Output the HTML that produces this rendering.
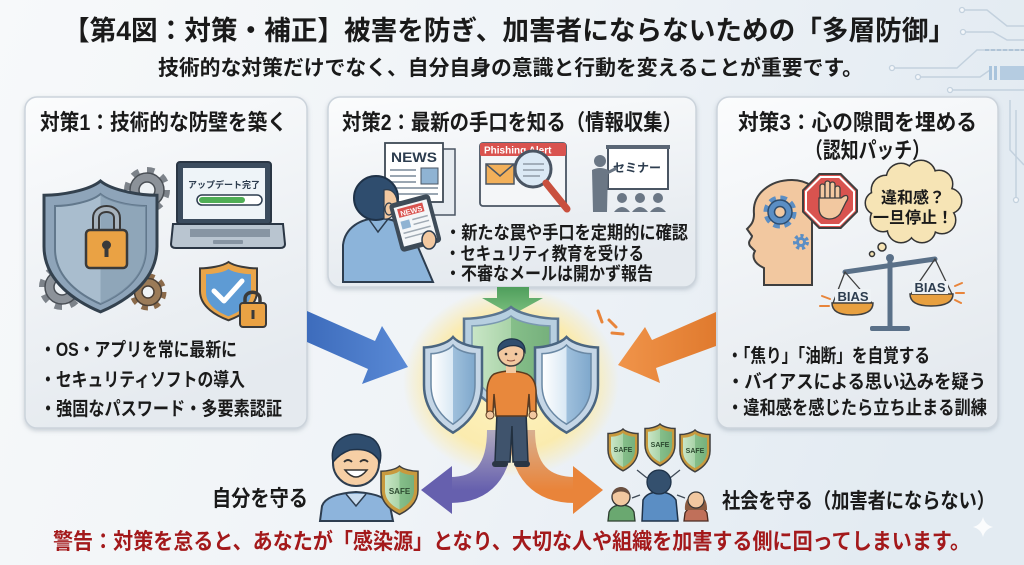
<!DOCTYPE html>
<html><head><meta charset="utf-8">
<style>
html,body{margin:0;padding:0;width:1024px;height:565px;overflow:hidden;background:#f2f5f8}
svg{display:block}
text{font-family:"Liberation Sans","Noto Sans CJK JP",sans-serif;font-weight:700}
</style></head><body>
<svg width="1024" height="565" viewBox="0 0 1024 565" xmlns="http://www.w3.org/2000/svg">
<defs>
 <linearGradient id="bg" x1="0" y1="0" x2="1" y2="0.2">
  <stop offset="0" stop-color="#f7f9fa"/><stop offset="0.55" stop-color="#eff3f7"/><stop offset="1" stop-color="#e3ebf2"/>
 </linearGradient>
 <linearGradient id="pn" x1="0" y1="0" x2="0.3" y2="1">
  <stop offset="0" stop-color="#fbfcfd"/><stop offset="1" stop-color="#e5eaef"/>
 </linearGradient>
 <filter id="sh" x="-10%" y="-10%" width="120%" height="120%"><feDropShadow dx="0" dy="2" stdDeviation="2.5" flood-color="#6f8091" flood-opacity="0.35"/></filter>
 <radialGradient id="glow" cx="0.5" cy="0.5" r="0.5">
  <stop offset="0" stop-color="#fff7c8"/><stop offset="0.72" stop-color="#fdeaa2" stop-opacity="0.85"/><stop offset="1" stop-color="#fde9a0" stop-opacity="0"/>
 </radialGradient>
 <linearGradient id="blueA" x1="0" y1="0" x2="1" y2="0"><stop offset="0" stop-color="#3d6cbc"/><stop offset="1" stop-color="#5a8ad6"/></linearGradient>
 <linearGradient id="orA" x1="1" y1="0" x2="0" y2="0"><stop offset="0" stop-color="#e07a2e"/><stop offset="1" stop-color="#f0944a"/></linearGradient>
 <linearGradient id="grA" x1="0" y1="0" x2="0" y2="1"><stop offset="0" stop-color="#4f9e5c"/><stop offset="1" stop-color="#7cc07f"/></linearGradient>
 <linearGradient id="puA" x1="0" y1="0" x2="0" y2="1"><stop offset="0" stop-color="#b0aabf"/><stop offset="1" stop-color="#6660ae"/></linearGradient>
 <linearGradient id="orB" x1="0" y1="0" x2="0" y2="1"><stop offset="0" stop-color="#d8b090"/><stop offset="1" stop-color="#e9843a"/></linearGradient>
 <linearGradient id="shB" x1="0" y1="0" x2="1" y2="0"><stop offset="0" stop-color="#ffffff"/><stop offset="0.5" stop-color="#d9e8f4"/><stop offset="0.5" stop-color="#9fc0dc"/><stop offset="1" stop-color="#7fa8cc"/></linearGradient>
 <linearGradient id="shG" x1="0" y1="0" x2="1" y2="0"><stop offset="0" stop-color="#c9e6c6"/><stop offset="0.5" stop-color="#a9d3a8"/><stop offset="0.5" stop-color="#86bf8a"/><stop offset="1" stop-color="#76b07c"/></linearGradient>
 <path id="shp" vector-effect="non-scaling-stroke" d="M50,0 C40,8 15,12 0,12 L0,55 C0,85 30,102 50,110 C70,102 100,85 100,55 L100,12 C85,12 60,8 50,0 Z"/>
 <path id="shr" d="M50,0 L50,110 C70,102 100,85 100,55 L100,12 C85,12 60,8 50,0 Z"/>
</defs>

<rect width="1024" height="565" fill="url(#bg)"/>

<!-- circuit lines -->
<g fill="none" stroke="#c3d1de" stroke-width="1.5">
 <polyline points="962,10 987,10 1007,26 1024,26"/>
 <polyline points="963,32 993,32 1007,40 1024,40"/>
 <polyline points="892,68 957,68 977,50 1024,50"/>
 <polyline points="918,77 980,77 990,70"/>
 <polyline points="950,90 1024,90"/>
 <polyline points="1010,100 1010,150 1024,165"/>
 <polyline points="1016,110 1016,200"/>
</g>
<g fill="#f4f7fa" stroke="#c3d1de" stroke-width="1.3">
 <circle cx="962" cy="10" r="2.5"/><circle cx="963" cy="32" r="2.5"/><circle cx="892" cy="68" r="2.5"/><circle cx="918" cy="77" r="2.5"/><circle cx="950" cy="90" r="2.5"/><circle cx="1016" cy="200" r="2.5"/>
</g>
<g fill="#a9c4dc"><rect x="989" y="66" width="3" height="14"/><rect x="994" y="66" width="3" height="14"/><rect x="1000" y="66" width="24" height="14" opacity="0.8"/></g>
<line x1="985" y1="50" x2="1024" y2="50" stroke="#b0c4d6" stroke-width="2" stroke-dasharray="4 2"/>

<!-- title -->
<text x="63" y="40" font-size="27" fill="#1a1a1a" textLength="892" lengthAdjust="spacingAndGlyphs">【第4図：対策・補正】被害を防ぎ、加害者にならないための「多層防御」</text>
<text x="158" y="75" font-size="21" fill="#1a1a1a" textLength="705" lengthAdjust="spacingAndGlyphs">技術的な対策だけでなく、自分自身の意識と行動を変えることが重要です。</text>

<!-- panels -->
<rect x="25" y="97" width="282" height="331" rx="12" fill="url(#pn)" stroke="#cbd3db" stroke-width="1.5" filter="url(#sh)"/>
<rect x="328" y="97" width="368" height="190" rx="12" fill="url(#pn)" stroke="#cbd3db" stroke-width="1.5" filter="url(#sh)"/>
<rect x="717" y="97" width="281" height="331" rx="12" fill="url(#pn)" stroke="#cbd3db" stroke-width="1.5" filter="url(#sh)"/>

<!-- Panel 1 -->
<text x="40" y="130" font-size="22" fill="#1a1a1a" textLength="247" lengthAdjust="spacingAndGlyphs">対策1：技術的な防壁を築く</text>
<g transform="translate(147,190)"><circle r="19" fill="none" stroke="#7d838a" stroke-width="8" stroke-dasharray="7 7.9"/><circle r="17" fill="#8c9299" stroke="#4a4f55" stroke-width="1.5"/><circle r="8" fill="#eef2f5" stroke="#4a4f55" stroke-width="1.5"/></g>
<g transform="translate(62,287)"><circle r="19" fill="none" stroke="#7d838a" stroke-width="8" stroke-dasharray="7 7.9"/><circle r="17" fill="#8c9299" stroke="#4a4f55" stroke-width="1.5"/><circle r="8" fill="#eef2f5" stroke="#4a4f55" stroke-width="1.5"/></g>
<g transform="translate(148,292)"><circle r="15" fill="none" stroke="#8a6a4a" stroke-width="7" stroke-dasharray="6 5.8"/><circle r="13.5" fill="#9b7b58" stroke="#4a3f35" stroke-width="1.5"/><circle r="6" fill="#eef2f5" stroke="#4a3f35" stroke-width="1.5"/></g>
<use href="#shp" transform="translate(44,181) scale(1.13,1.19)" fill="#8ea4b9" stroke="#33414e" stroke-width="3"/>
<use href="#shp" transform="translate(55,194) scale(0.91,1.0)" fill="#a9bdce" stroke="#62788c" stroke-width="2"/>
<use href="#shr" transform="translate(55,194) scale(0.91,1.0)" fill="#7f96ab" opacity="0.6"/>
<path d="M96,232 L96,218 C96,206 117,206 117,218 L117,232" fill="none" stroke="#3a3a3a" stroke-width="8"/>
<path d="M96,232 L96,218 C96,206 117,206 117,218 L117,232" fill="none" stroke="#a7b3bd" stroke-width="4"/>
<rect x="86" y="230" width="41" height="38" rx="4" fill="#eaa244" stroke="#3a3a3a" stroke-width="2.5"/>
<circle cx="106.5" cy="245" r="4.5" fill="#3a3a3a"/><rect x="104.5" y="246" width="4" height="11" fill="#3a3a3a"/>
<rect x="177" y="162" width="94" height="62" rx="3" fill="#3b4c5e" stroke="#2a3644" stroke-width="2"/>
<rect x="183" y="168" width="82" height="51" fill="#eef4f8"/>
<text x="224" y="188" font-size="9" fill="#2d3d4f" text-anchor="middle" font-weight="400">アップデート完了</text>
<rect x="197" y="195" width="65" height="10" rx="5" fill="#fff" stroke="#2d3d4f" stroke-width="1.5"/>
<rect x="199" y="197" width="46" height="6" rx="3" fill="#4fae55"/>
<path d="M173,224 L283,224 L285,244 Q285,248 280,248 L176,248 Q171,248 171,244 Z" fill="#b9c5d0" stroke="#2a3644" stroke-width="2"/>
<rect x="190" y="229" width="80" height="8" fill="#8795a3"/>
<rect x="213" y="240" width="30" height="4" rx="1" fill="#8795a3"/>
<use href="#shp" transform="translate(200,262) scale(0.57,0.53)" fill="#e9a54a" stroke="#3a3a3a" stroke-width="2"/>
<use href="#shp" transform="translate(206,269) scale(0.45,0.43)" fill="#5e9bd4"/>
<path d="M214,291 L224,301 L242,281" fill="none" stroke="#fff" stroke-width="5" stroke-linecap="round" stroke-linejoin="round"/>
<path d="M245,305 L245,299 C245,290 260,290 260,299 L260,305" fill="none" stroke="#3a3a3a" stroke-width="3.5"/>
<rect x="240" y="303" width="26" height="24" rx="3" fill="#eaa244" stroke="#3a3a3a" stroke-width="2"/>
<rect x="251.5" y="310" width="3" height="9" fill="#3a3a3a"/>
<g font-size="19" fill="#1a1a1a">
<text x="40" y="356" textLength="197" lengthAdjust="spacingAndGlyphs">・OS・アプリを常に最新に</text>
<text x="40" y="386" textLength="205" lengthAdjust="spacingAndGlyphs">・セキュリティソフトの導入</text>
<text x="40" y="415" textLength="242" lengthAdjust="spacingAndGlyphs">・強固なパスワード・多要素認証</text>
</g>

<!-- Panel 2 -->
<text x="342" y="130" font-size="22" fill="#1a1a1a" textLength="340" lengthAdjust="spacingAndGlyphs">対策2：最新の手口を知る（情報収集）</text>
<!-- newspaper -->
<rect x="395" y="149" width="60" height="66" fill="#e6ebf0" stroke="#4a5563" stroke-width="1.5"/>
<rect x="385" y="143" width="58" height="59" fill="#fff" stroke="#3f4a56" stroke-width="1.8"/>
<text x="391" y="162" font-size="14" fill="#2d3d4f" textLength="46" lengthAdjust="spacingAndGlyphs">NEWS</text>
<g stroke="#9aa6b2" stroke-width="2"><line x1="390" y1="170" x2="416" y2="170"/><line x1="390" y1="176" x2="416" y2="176"/><line x1="390" y1="182" x2="416" y2="182"/><line x1="390" y1="188" x2="438" y2="188"/><line x1="390" y1="194" x2="438" y2="194"/></g>
<rect x="421" y="168" width="17" height="16" fill="#8fb3d3" stroke="#4a5563"/>
<!-- person reading -->
<path d="M343,282 L343,245 C345,228 360,218 380,218 C398,219 410,228 415,240 L433,282 Z" fill="#8cb4da" stroke="#2d3d4f" stroke-width="2"/>
<path d="M368,218 L378,232 L388,219" fill="none" stroke="#2d3d4f" stroke-width="1.5"/>
<circle cx="376" cy="198" r="22" fill="#2f4d6e" stroke="#1f3248" stroke-width="2"/>
<path d="M384,190 C392,188 398,195 397,205 C396,214 390,220 384,219 Z" fill="#f2c8a0" stroke="#2d3d4f" stroke-width="1.2"/>
<ellipse cx="389" cy="209" rx="4" ry="6" fill="#f2c8a0" stroke="#2d3d4f" stroke-width="1.2"/>
<g transform="rotate(-15 415 222)">
<rect x="394" y="198" width="42" height="50" rx="4" fill="#3e4b58"/>
<rect x="398" y="203" width="34" height="40" fill="#f4f6f8"/>
<rect x="401" y="205" width="26" height="9" fill="#d9534f"/>
<text x="403" y="213" font-size="7.5" fill="#fff">NEWS</text>
<rect x="401" y="218" width="9" height="8" fill="#8fb3d3"/>
<g stroke="#a0aab4" stroke-width="1.5"><line x1="413" y1="219" x2="429" y2="219"/><line x1="413" y1="224" x2="429" y2="224"/><line x1="401" y1="230" x2="429" y2="230"/><line x1="401" y1="235" x2="429" y2="235"/></g>
</g>
<ellipse cx="429" cy="240" rx="7" ry="9" fill="#f2c8a0" stroke="#2d3d4f" stroke-width="1.5"/>
<!-- phishing alert -->
<rect x="480" y="143" width="86" height="63" rx="3" fill="#f4f6f8" stroke="#4a5563" stroke-width="1.8"/>
<rect x="480" y="143" width="86" height="13" rx="2" fill="#d9534f"/>
<text x="484" y="153.5" font-size="10" fill="#fff">Phishing Alert</text>
<rect x="486" y="164" width="28" height="20" fill="#f2b05a" stroke="#4a5563" stroke-width="1.5"/>
<path d="M486,164 L500,176 L514,164" fill="none" stroke="#4a5563" stroke-width="1.5"/>
<circle cx="533" cy="169" r="18" fill="#dbe9f5" stroke="#4a5563" stroke-width="3"/>
<g stroke="#9aa6b2" stroke-width="1.8"><line x1="523" y1="164" x2="544" y2="164"/><line x1="523" y1="170" x2="544" y2="170"/><line x1="523" y1="176" x2="540" y2="176"/></g>
<line x1="546" y1="183" x2="567" y2="209" stroke="#c9503e" stroke-width="7" stroke-linecap="round"/>
<!-- seminar -->
<rect x="608" y="147" width="60" height="42" fill="#fff" stroke="#4a5563" stroke-width="2"/>
<rect x="606" y="145" width="64" height="4" fill="#5a6675"/>
<text x="613" y="172" font-size="12" fill="#2d3d4f" font-weight="400">セミナー</text>
<circle cx="600" cy="161" r="6" fill="#6b7785"/>
<path d="M592,170 Q600,166 608,170 L607,212 L593,212 Z" fill="#6b7785"/>
<line x1="605" y1="174" x2="617" y2="168" stroke="#6b7785" stroke-width="3"/>
<g fill="#6b7785"><circle cx="622" cy="198" r="5"/><circle cx="640" cy="198" r="5"/><circle cx="658" cy="198" r="5"/>
<path d="M614,212 Q622,202 630,212 Z"/><path d="M632,212 Q640,202 648,212 Z"/><path d="M650,212 Q658,202 666,212 Z"/></g>
<g font-size="18" fill="#1a1a1a">
<text x="445" y="239" textLength="243" lengthAdjust="spacingAndGlyphs">・新たな罠や手口を定期的に確認</text>
<text x="445" y="260" textLength="199" lengthAdjust="spacingAndGlyphs">・セキュリティ教育を受ける</text>
<text x="445" y="280" textLength="208" lengthAdjust="spacingAndGlyphs">・不審なメールは開かず報告</text>
</g>

<!-- Panel 3 -->
<text x="738" y="130" font-size="22" fill="#1a1a1a" textLength="239" lengthAdjust="spacingAndGlyphs">対策3：心の隙間を埋める</text>
<text x="805" y="158" font-size="22" fill="#1a1a1a" textLength="125" lengthAdjust="spacingAndGlyphs">（認知パッチ）</text>
<path d="M764,285 L764,268 C753,263 752,256 755,251 L750,246 C747,241 752,239 752,236 L747,229 C751,225 754,222 754,214 C752,194 770,180 792,180 C800,180 806,182 812,186 L812,285 Z" fill="#f2c8a0" stroke="#3f3f3f" stroke-width="2"/>
<g transform="translate(780,212)"><circle r="13" fill="none" stroke="#5b8ec4" stroke-width="7" stroke-dasharray="6 4.2"/><circle r="12" fill="#5b8ec4" stroke="#2f4d6e" stroke-width="1.5"/><circle r="5.5" fill="#f2c8a0" stroke="#2f4d6e" stroke-width="1.5"/></g>
<g transform="translate(801,242)"><circle r="6" fill="none" stroke="#5b8ec4" stroke-width="4" stroke-dasharray="3 2.5"/><circle r="5" fill="#5b8ec4"/><circle r="2" fill="#f2c8a0"/></g>
<polygon points="840.7,174 857,190.3 857,211.7 840.7,228 819.3,228 803,211.7 803,190.3 819.3,174" fill="#d9534f" stroke="#3f3f3f" stroke-width="2"/>
<polygon points="839.5,177 854,191.5 854,210.5 839.5,225 820.5,225 806,210.5 806,191.5 820.5,177" fill="none" stroke="#fff" stroke-width="2"/>
<g fill="#f2c8a0" stroke="#3f3f3f" stroke-width="1.3">
<rect x="820" y="184" width="5" height="18" rx="2.5"/><rect x="825" y="181" width="5" height="20" rx="2.5"/><rect x="830" y="182" width="5" height="20" rx="2.5"/><rect x="835" y="186" width="5" height="17" rx="2.5"/>
<path d="M819,198 L841,198 L844,196 C848,194 849,198 846,202 L840,214 Q836,219 829,219 Q819,218 819,208 Z"/>
</g>
<g fill="#f6e4b5" stroke="#333" stroke-width="3">
<circle cx="886" cy="190" r="14"/><circle cx="901" cy="178" r="14"/><circle cx="921" cy="175" r="14"/><circle cx="939" cy="184" r="13"/><circle cx="949" cy="201" r="12"/><circle cx="942" cy="220" r="13"/><circle cx="922" cy="229" r="13"/><circle cx="901" cy="229" r="13"/><circle cx="883" cy="219" r="12"/><circle cx="877" cy="203" r="11"/>
</g>
<g fill="#f6e4b5">
<circle cx="886" cy="190" r="14"/><circle cx="901" cy="178" r="14"/><circle cx="921" cy="175" r="14"/><circle cx="939" cy="184" r="13"/><circle cx="949" cy="201" r="12"/><circle cx="942" cy="220" r="13"/><circle cx="922" cy="229" r="13"/><circle cx="901" cy="229" r="13"/><circle cx="883" cy="219" r="12"/><circle cx="877" cy="203" r="11"/><ellipse cx="913" cy="204" rx="34" ry="26"/>
</g>
<text x="913" y="203" font-size="16" fill="#1a1a1a" text-anchor="middle">違和感？</text>
<text x="913" y="223" font-size="16" fill="#1a1a1a" text-anchor="middle">一旦停止！</text>
<circle cx="882" cy="247" r="4" fill="#f6e4b5" stroke="#333" stroke-width="1.5"/>
<circle cx="872" cy="254" r="2.5" fill="#f6e4b5" stroke="#333" stroke-width="1.5"/>
<g stroke="#5a7088" stroke-linecap="round">
<line x1="890" y1="262" x2="890" y2="328" stroke-width="5"/>
<line x1="845" y1="272" x2="935" y2="259" stroke-width="5"/>
<g stroke-width="1.3" stroke="#3f3f3f"><line x1="845" y1="272" x2="833" y2="303"/><line x1="845" y1="272" x2="872" y2="303"/><line x1="935" y1="259" x2="911" y2="294"/><line x1="935" y1="259" x2="952" y2="294"/></g>
</g>
<circle cx="890" cy="258" r="4" fill="#5a7088"/>
<rect x="870" y="326" width="40" height="5" rx="2" fill="#5a7088"/>
<path d="M832,303 L873,303 Q873,315 852,315 Q832,315 832,303 Z" fill="#e8a040" stroke="#3f3f3f" stroke-width="1.5"/>
<path d="M910,294 L953,294 Q953,306 931,306 Q910,306 910,294 Z" fill="#e8a040" stroke="#3f3f3f" stroke-width="1.5"/>
<rect x="835" y="289" width="36" height="13" fill="#eef2f5"/>
<rect x="912" y="281" width="36" height="13" fill="#eef2f5"/>
<text x="853" y="301" font-size="13" fill="#2d3d4f" text-anchor="middle">BIAS</text>
<text x="930" y="292" font-size="13" fill="#2d3d4f" text-anchor="middle">BIAS</text>
<g stroke="#e8843a" stroke-width="2" stroke-linecap="round">
<line x1="822" y1="296" x2="830" y2="299"/><line x1="820" y1="306" x2="829" y2="306"/><line x1="955" y1="286" x2="962" y2="283"/><line x1="956" y1="293" x2="964" y2="293"/><line x1="955" y1="300" x2="961" y2="303"/>
</g>
<g font-size="19" fill="#1a1a1a">
<text x="727" y="362" textLength="203" lengthAdjust="spacingAndGlyphs">・「焦り」「油断」を自覚する</text>
<text x="727" y="388" textLength="259" lengthAdjust="spacingAndGlyphs">・バイアスによる思い込みを疑う</text>
<text x="727" y="414" textLength="260" lengthAdjust="spacingAndGlyphs">・違和感を感じたら立ち止まる訓練</text>
</g>

<!-- Center -->
<ellipse cx="511" cy="382" rx="108" ry="95" fill="url(#glow)"/>
<polygon points="497,287 529,287 529,298 543,298 512,315 482,298 497,298" fill="url(#grA)"/>
<polygon points="307,311 375,341 382,326 408,367 362,384 368,369 307,342" fill="url(#blueA)"/>
<polygon points="716,312 652,340 645,327 618,365 660,383 656,368 716,346" fill="url(#orA)"/>
<g stroke="#e8843a" stroke-width="3" stroke-linecap="round">
<line x1="598" y1="311" x2="602" y2="322"/><line x1="609" y1="320" x2="616" y2="327"/><line x1="612" y1="333" x2="623" y2="334"/>
</g>
<path d="M500,430 C500,472 482,490 450,490" fill="none" stroke="url(#puA)" stroke-width="26"/>
<polygon points="452,466 452,514 421,490" fill="#6660ae"/>
<path d="M522,430 C522,472 542,490 575,490" fill="none" stroke="url(#orB)" stroke-width="26"/>
<polygon points="573,466 573,514 603,490" fill="#e9843a"/>
<use href="#shp" transform="translate(464,307) scale(0.94,0.98)" fill="#b7cfe0" stroke="#5a7590" stroke-width="2.5"/>
<use href="#shp" transform="translate(472,316) scale(0.78,0.82)" fill="url(#shG)" stroke="#7a98b0" stroke-width="1.5"/>
<use href="#shp" transform="translate(424,337) scale(0.58,0.87)" fill="#c5d6e6" stroke="#4a6580" stroke-width="2.5"/>
<use href="#shp" transform="translate(431,345) scale(0.44,0.72)" fill="url(#shB)" stroke="#6a88a4" stroke-width="1.5"/>
<use href="#shp" transform="translate(535,337) scale(0.63,0.87)" fill="#c5d6e6" stroke="#4a6580" stroke-width="2.5"/>
<use href="#shp" transform="translate(542,345) scale(0.49,0.72)" fill="url(#shB)" stroke="#6a88a4" stroke-width="1.5"/>
<path d="M497,412 L526,412 L528,462 L513,462 L512,426 L510,462 L495,462 Z" fill="#3f536c" stroke="#22303f" stroke-width="1.5"/>
<rect x="492" y="461" width="16" height="6" rx="3" fill="#2a3644"/><rect x="514" y="461" width="16" height="6" rx="3" fill="#2a3644"/>
<path d="M494,374 Q510,368 527,374 Q535,378 536,390 L536,412 L530,412 L529,394 L527,416 L496,416 L494,394 L493,412 L487,412 L487,390 Q488,378 494,374 Z" fill="#e8883c" stroke="#5a3a20" stroke-width="1.5"/>
<circle cx="490" cy="415" r="4" fill="#f2c8a0" stroke="#5a3a20" stroke-width="1"/><circle cx="533" cy="415" r="4" fill="#f2c8a0" stroke="#5a3a20" stroke-width="1"/>
<rect x="506" y="364" width="10" height="9" fill="#f2c8a0"/>
<circle cx="511" cy="353" r="13" fill="#f2c8a0" stroke="#3f3f3f" stroke-width="1.5"/>
<path d="M498,352 C496,336 526,333 525,352 C521,344 508,343 498,352 Z" fill="#2f4d6e" stroke="#1f3248" stroke-width="1.2"/>
<circle cx="506" cy="354" r="1.3" fill="#333"/><circle cx="516" cy="354" r="1.3" fill="#333"/>
<path d="M507,360 Q511,362 515,360" fill="none" stroke="#8a4a3a" stroke-width="1"/>

<!-- bottom-left person -->
<path d="M320,521 L322,506 Q326,494 356,492 Q386,494 390,506 L393,521 Z" fill="#8db4dc" stroke="#2d3d4f" stroke-width="2"/>
<path d="M346,494 L356,506 L366,494" fill="#c8dcf0" stroke="#2d3d4f" stroke-width="1.5"/>
<circle cx="356" cy="463" r="23" fill="#f6cfa5" stroke="#2d3d4f" stroke-width="2"/>
<path d="M333,462 C328,438 352,430 366,436 C376,438 383,448 380,462 C374,452 366,448 350,450 C344,452 338,456 333,462 Z" fill="#2f4d6e" stroke="#1f3248" stroke-width="1.5"/>
<path d="M344,462 Q348,458 352,462 M360,462 Q364,458 368,462" fill="none" stroke="#333" stroke-width="1.8"/>
<path d="M345,470 Q356,484 367,470 Z" fill="#fff" stroke="#333" stroke-width="1.5"/>
<use href="#shp" transform="translate(381,466) scale(0.37,0.44)" fill="#c89a3e" stroke="#3f3f3f" stroke-width="1.5"/>
<use href="#shp" transform="translate(385,471) scale(0.29,0.35)" fill="url(#shG)"/>
<text x="399.5" y="494" font-size="8" fill="#2d4a30" text-anchor="middle">SAFE</text>
<text x="212" y="506" font-size="22" fill="#1a1a1a" textLength="96" lengthAdjust="spacingAndGlyphs">自分を守る</text>

<!-- group on right -->
<use href="#shp" transform="translate(608,429) scale(0.30,0.38)" fill="#c89a3e" stroke="#3f3f3f" stroke-width="1.5"/>
<use href="#shp" transform="translate(611,433) scale(0.24,0.31)" fill="url(#shG)"/>
<text x="623" y="452" font-size="7" fill="#2d4a30" text-anchor="middle">SAFE</text>
<use href="#shp" transform="translate(645,424) scale(0.30,0.38)" fill="#c89a3e" stroke="#3f3f3f" stroke-width="1.5"/>
<use href="#shp" transform="translate(648,428) scale(0.24,0.31)" fill="url(#shG)"/>
<text x="660" y="447" font-size="7" fill="#2d4a30" text-anchor="middle">SAFE</text>
<use href="#shp" transform="translate(680,430) scale(0.30,0.38)" fill="#c89a3e" stroke="#3f3f3f" stroke-width="1.5"/>
<use href="#shp" transform="translate(683,434) scale(0.24,0.31)" fill="url(#shG)"/>
<text x="695" y="453" font-size="7" fill="#2d4a30" text-anchor="middle">SAFE</text>
<g stroke="#3f4a56" stroke-width="1.3"><line x1="647" y1="478" x2="637" y2="470"/><line x1="670" y1="478" x2="680" y2="470"/><line x1="640" y1="495" x2="632" y2="498"/><line x1="677" y1="495" x2="685" y2="498"/></g>
<path d="M608,521 L609,512 Q612,505 621,505 Q631,505 634,512 L635,521 Z" fill="#6aa870" stroke="#2d3d2f" stroke-width="1.3"/>
<circle cx="621" cy="497" r="9" fill="#f2c8a0" stroke="#333" stroke-width="1.3"/>
<path d="M612,496 C612,484 630,484 630,496 C626,490 616,490 612,496 Z" fill="#6a5040"/>
<path d="M642,521 L643,500 Q647,492 659,492 Q671,492 676,500 L678,521 Z" fill="#5b8ec4" stroke="#1f3248" stroke-width="1.5"/>
<circle cx="659" cy="482" r="12" fill="#34506e" stroke="#1f3248" stroke-width="1.3"/>
<path d="M684,521 L685,513 Q688,507 696,507 Q704,507 707,513 L708,521 Z" fill="#c0705a" stroke="#4a2a20" stroke-width="1.3"/>
<path d="M685,510 C683,490 708,488 707,510 Z" fill="#8a5a40"/>
<circle cx="696" cy="500" r="8" fill="#f2c8a0" stroke="#333" stroke-width="1.2"/>
<text x="722" y="508" font-size="21" fill="#1a1a1a" textLength="273" lengthAdjust="spacingAndGlyphs">社会を守る（加害者にならない）</text>

<path d="M983,517 Q985,525 993,527 Q985,529 983,537 Q981,529 973,527 Q981,525 983,517 Z" fill="#ffffff" opacity="0.85"/>

<text x="53" y="549" font-size="22" fill="#a3191b" textLength="917" lengthAdjust="spacingAndGlyphs">警告：対策を怠ると、あなたが「感染源」となり、大切な人や組織を加害する側に回ってしまいます。</text>
</svg>
</body></html>
